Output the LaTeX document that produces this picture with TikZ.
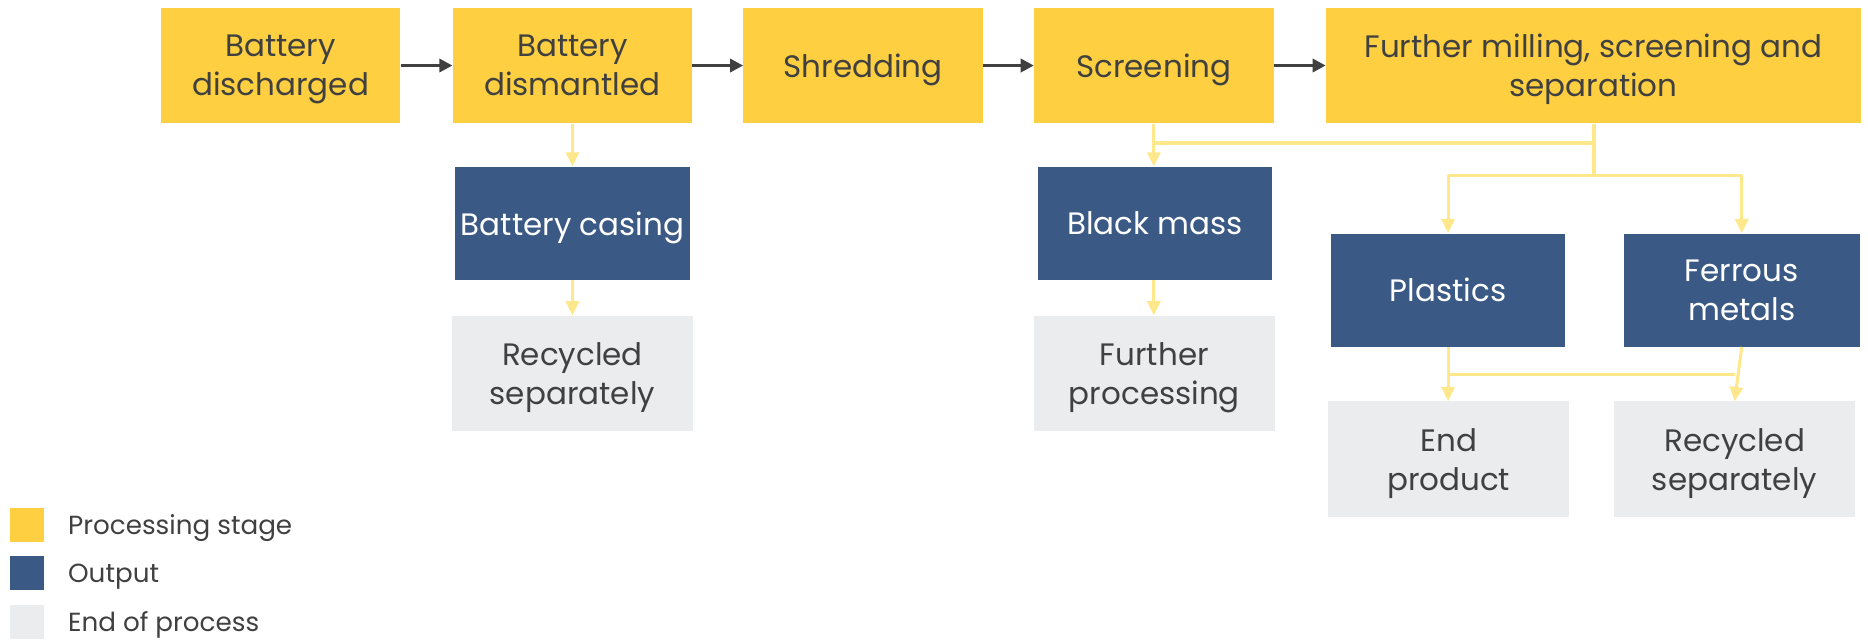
\documentclass[tikz,border=0pt]{standalone}
\usepackage{fontspec}
\setmainfont{Poppins}
\usetikzlibrary{arrows.meta}
\definecolor{stageY}{HTML}{FDCF41}
\definecolor{outB}{HTML}{3A5985}
\definecolor{endG}{HTML}{EBECEE}
\definecolor{linkY}{HTML}{FFE88C}
\definecolor{txt}{HTML}{404040}
\tikzset{
  base/.style={rectangle, inner sep=0pt, align=center, text depth=0pt, font=\fontsize{26}{33}\selectfont},
  stage/.style={base, fill=stageY, text=txt, minimum width=201pt, minimum height=97pt},
  outbox/.style={base, fill=outB, text=white, minimum width=197pt, minimum height=95pt},
  endbox/.style={base, fill=endG, text=txt, minimum width=202pt, minimum height=97pt},
  flow/.style={draw=txt, line width=2.6pt, -{Triangle[length=11pt,width=11pt]}},
  feed/.style={draw=linkY, line width=2.6pt, -{Triangle[length=12pt,width=11pt]}},
  feedline/.style={draw=linkY, line width=2.6pt},
  key/.style={rectangle, inner sep=0pt, minimum size=29pt},
  keytext/.style={anchor=west, inner sep=0pt, text depth=0pt, text=txt, font=\fontsize{22}{24}\selectfont}
}
\begin{document}
\begin{tikzpicture}[x=1pt,y=-1pt]
\useasboundingbox (0,0) rectangle (1568,538);

% processing stages
\node[stage] (b1) at (235.5,55) {Battery\\discharged};
\node[stage] (b2) at (480.5,55) {Battery\\dismantled};
\node[stage] (b3) at (724.5,55) {Shredding};
\node[stage] (b4) at (968.5,55) {Screening};
\node[stage, minimum width=449pt] (b5) at (1337.5,55) {Further milling, screening and\\separation};

% outputs
\node[outbox] (casing) at (480.5,187.5) {Battery casing};
\node[outbox] (black) at (969.5,187.5) {Black mass};
\node[outbox] (plastics) at (1215.5,243.5) {Plastics};
\node[outbox, minimum width=198pt] (ferrous) at (1462,243.5) {Ferrous\\metals};

% end of process
\node[endbox] (rec1) at (480.5,313.5) {Recycled\\separately};
\node[endbox] (further) at (969,313.5) {Further\\processing};
\node[endbox] (endp) at (1216,385.5) {End\\product};
\node[endbox] (rec2) at (1456,385.5) {Recycled\\separately};

% main process chain
\draw[flow] (b1.east) -- (b2.west);
\draw[flow] (b2.east) -- (b3.west);
\draw[flow] (b3.east) -- (b4.west);
\draw[flow] (b4.east) -- (b5.west);

% branch points
\coordinate (j1) at (1338,120);
\coordinate (j2) at (1338,147);
\coordinate (j3) at (1216,314);

% outputs of each stage
\draw[feed] (b2.south) -- (casing.north);
\draw[feed] (casing.south) -- (rec1.north);
\draw[feed] (b4.south) -- (b4.south |- black.north);
\draw[feedline] (b5.south -| j1) -- (j1) -- (b4.south |- j1);
\draw[feedline] (j1) -- (j2);
\draw[feedline] (plastics.north |- j2) -- (ferrous.north |- j2);
\draw[feed] (plastics.north |- j2) -- (plastics.north);
\draw[feed] (ferrous.north |- j2) -- (ferrous.north);
\draw[feed] (black.south -| b4.south) -- (further.north -| b4.south);
\draw[feed] (plastics.south) -- (plastics.south |- endp.north);
\draw[feedline] (j3) -- (rec2.north |- j3);
\draw[feed] (ferrous.south) -- (rec2.north);

% legend
\node[key, fill=stageY] (k1) at (22.5,440.5) {};
\node[key, fill=outB] (k2) at (22.5,481) {};
\node[key, fill=endG] (k3) at (22.5,522) {};
\node[keytext] (t1) at (57,440.5) {Processing stage};
\node[keytext] (t2) at (57,481) {Output};
\node[keytext] (t3) at (57,522) {End of process};
\end{tikzpicture}
\end{document}
